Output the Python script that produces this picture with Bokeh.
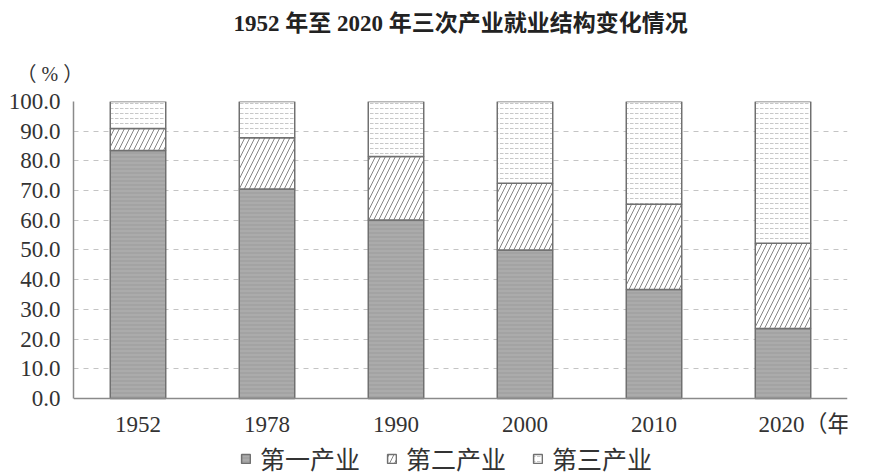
from bokeh.plotting import figure
from bokeh.models import ColumnDataSource, FixedTicker, PrintfTickFormatter, Title, Legend, LegendItem, Range1d
from bokeh.embed import file_html
from bokeh.resources import INLINE

years = ["1952", "1978", "1990", "2000", "2010", "2020"]
primary = [83.5, 70.5, 60.1, 50.0, 36.7, 23.6]
secondary = [7.4, 17.3, 21.4, 22.5, 28.7, 28.7]
tertiary = [9.1, 12.2, 18.5, 27.5, 34.6, 47.7]
series_names = ["第一产业", "第二产业", "第三产业"]
y_ticks = [0, 10, 20, 30, 40, 50, 60, 70, 80, 90, 100]
title_text = "1952 年至 2020 年三次产业就业结构变化情况"
y_unit = "（ % ）"
x_unit = "（年）"

SERIF = "Liberation Serif, Noto Sans CJK SC"

n = len(years)
pos = list(range(n))
src = ColumnDataSource(dict(pos=pos, year=years, p1=primary, p2=secondary, p3=tertiary))

p = figure(width=873, height=474, x_range=Range1d(-0.5, n - 0.5), y_range=(-25.6, 100),
           output_backend="svg", toolbar_location=None,
           min_border_left=73, min_border_right=26, min_border_top=101, min_border_bottom=0)
p.outline_line_color = None
p.background_fill_color = "white"

styles = [
    dict(fill_color="#a3a3a3", hatch_pattern="horizontal_line", hatch_color="#b8b8b8", hatch_scale=4, hatch_weight=0.8),
    dict(fill_color="white", hatch_pattern="right_diagonal_line", hatch_color="#858585", hatch_scale=10, hatch_weight=1),
    dict(fill_color="white", hatch_pattern="horizontal_dash", hatch_color="#c8c8c8", hatch_scale=5, hatch_weight=1),
]
renderers = p.vbar_stack(["p1", "p2", "p3"], x="pos", width=0.43, source=src,
                         line_color="#707070", line_width=1.5,
                         fill_color=[s["fill_color"] for s in styles],
                         hatch_pattern=[s["hatch_pattern"] for s in styles],
                         hatch_color=[s["hatch_color"] for s in styles],
                         hatch_scale=[s["hatch_scale"] for s in styles],
                         hatch_weight=[s["hatch_weight"] for s in styles])

p.xgrid.grid_line_color = None
p.ygrid.grid_line_color = "#c4c4c4"
p.ygrid.grid_line_dash = "5 5"
p.ygrid.grid_line_width = 1
p.ygrid.ticker = FixedTicker(ticks=y_ticks[1:])

# x axis: one tick per year, the last label carries the unit
x_labels = {i: yr for i, yr in zip(pos, years)}
x_labels[pos[-1]] = "\u3000\u3000\u3000" + years[-1] + x_unit
p.xaxis.ticker = FixedTicker(ticks=pos)
p.xaxis.major_label_overrides = x_labels
p.xaxis.fixed_location = 0

p.yaxis.ticker = FixedTicker(ticks=y_ticks)
p.yaxis.formatter = PrintfTickFormatter(format="%.1f")
p.yaxis.bounds = (0, 100)
for ax in (p.xaxis[0], p.yaxis[0]):
    ax.axis_line_color = "#8a8a8a"
    ax.axis_line_width = 1.5
    ax.major_tick_line_color = None
    ax.minor_tick_line_color = None
    ax.major_label_text_font = SERIF
    ax.major_label_text_font_size = "23px"
    ax.major_label_text_color = "#333333"
p.yaxis.major_label_standoff = 7
p.xaxis.major_label_standoff = 8

unit_title = Title(text=y_unit, align="left", offset=-57, text_font=SERIF,
                   text_font_size="20px", text_font_style="normal", text_color="#333333", standoff=34)
p.add_layout(unit_title, "above")
main_title = Title(text=title_text, align="center", text_font=SERIF,
                   text_font_size="23px", text_font_style="bold", text_color="#222222", standoff=16)
p.add_layout(main_title, "above")

legend = Legend(items=[LegendItem(label=s, renderers=[r]) for s, r in zip(series_names, renderers)],
                orientation="horizontal", location=(167, -2),
                label_text_font=SERIF, label_text_font_size="25px", label_text_color="#333333",
                glyph_width=11, glyph_height=11, label_standoff=9, spacing=26,
                padding=0, margin=0, border_line_color=None, background_fill_alpha=0)
p.add_layout(legend, "center")

open("out.html", "w").write(file_html(p, INLINE))
